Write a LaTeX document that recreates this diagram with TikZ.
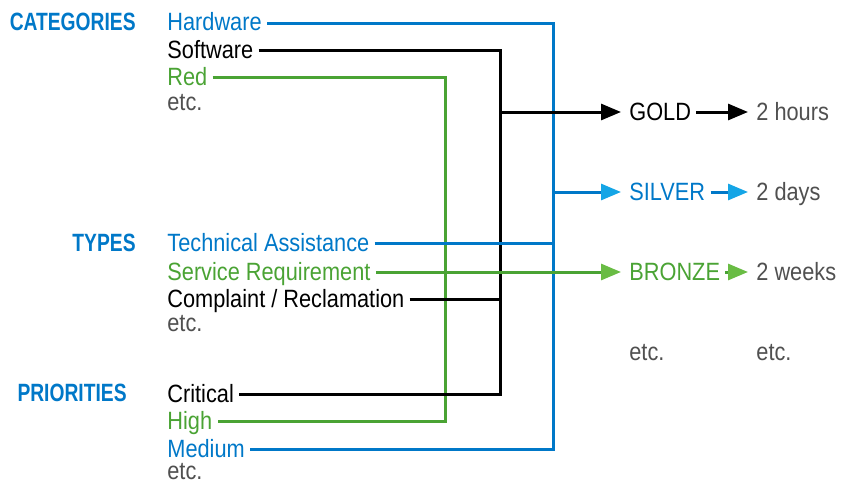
\documentclass[tikz,border=0pt]{standalone}
\usepackage{fontspec}
\setmainfont[FakeStretch=0.87,BoldFeatures={FakeStretch=0.77}]{Liberation Sans}
\usepackage{xcolor}
\usepackage{tikz}
\usetikzlibrary{arrows.meta}
\definecolor{catblue}{RGB}{0,120,200}
\definecolor{tipblue}{RGB}{20,165,230}
\definecolor{catgreen}{RGB}{74,163,52}
\definecolor{tipgreen}{RGB}{105,188,68}
\definecolor{etcgray}{RGB}{80,80,80}
\def\grp#1{\textbf{#1}}

\begin{document}
\begin{tikzpicture}[x=0.5pt,y=-0.5pt]
    \tikzstyle{every node}=[font=\fontsize{12.5}{14}\selectfont,text height=9pt,text depth=1pt,inner ysep=0pt,inner xsep=2.5pt]
    \tikzstyle{item}=[anchor=west]
    \tikzstyle{head}=[anchor=east,text=catblue]
    \tikzstyle{wire}=[line width=1.5pt]
    \tikzstyle{feed}=[wire,shorten >=1.5pt]
    \useasboundingbox (0,0) rectangle (846,482);
    \node[head] (cat) at (141,23) {\grp{CATEGORIES}};
    \node[head] (typ) at (141,243) {\grp{TYPES}};
    \node[head] (pri) at (132,393) {\grp{PRIORITIES}};
    \node[item,text=catblue] (hw) at (162,23) {Hardware};
    \node[item] (sw) at (162,50) {Software};
    \node[item,text=catgreen] (red) at (162,77) {Red};
    \node[item,text=etcgray] (etccat) at (162,102) {etc.};
    \node[item,text=catblue] (tech) at (162,243) {Technical Assistance};
    \node[item,text=catgreen] (serv) at (162,272) {Service Requirement};
    \node[item] (compl) at (162,299) {Complaint / Reclamation};
    \node[item,text=etcgray] (etctyp) at (162,323) {etc.};
    \node[item] (crit) at (162,394) {Critical};
    \node[item,text=catgreen] (high) at (162,421) {High};
    \node[item,text=catblue] (med) at (162,449) {Medium};
    \node[item,text=etcgray] (etcpri) at (162,471) {etc.};
    \node[item] (gold) at (624,112) {GOLD};
    \node[item,text=catblue] (silver) at (624,192) {SILVER};
    \node[item,text=catgreen] (bronze) at (624,272) {BRONZE};
    \node[item,text=etcgray] (etclvl) at (624,352) {etc.};
    \node[item,text=etcgray] (hours) at (751,112) {2 hours};
    \node[item,text=etcgray] (days) at (751,192) {2 days};
    \node[item,text=etcgray] (weeks) at (751,272) {2 weeks};
    \node[item,text=etcgray] (etctime) at (751,352) {etc.};
    \coordinate (gbus) at (445,0);
    \coordinate (kbus) at (500,0);
    \coordinate (bbus) at (553,0);
    \draw[wire,catgreen] (red.east) -- (red.east -| gbus) -- (high.east -| gbus) -- (high.east);
    \draw[wire] (sw.east) -- (sw.east -| kbus) -- (crit.east -| kbus) -- (crit.east);
    \draw[wire] (compl.east) -- (compl.east -| kbus);
    \draw[wire,catblue] (hw.east) -- (hw.east -| bbus) -- (med.east -| bbus) -- (med.east);
    \draw[wire,catblue] (tech.east) -- (tech.east -| bbus);
    \draw[feed,catgreen,-{Triangle[length=10pt,width=8pt,color=tipgreen]}] (serv) -- (bronze);
    \draw[feed,-{Triangle[length=10pt,width=8pt]}] (gold.west -| kbus) -- (gold);
    \draw[feed,catblue,-{Triangle[length=10pt,width=8pt,color=tipblue]}] (silver.west -| bbus) -- (silver);
    \draw[feed,-{Triangle[length=10pt,width=8pt]}] (gold) -- (hours);
    \draw[feed,catblue,-{Triangle[length=10pt,width=8pt,color=tipblue]}] (silver) -- (days);
    \draw[feed,catgreen,-{Triangle[length=10pt,width=8pt,color=tipgreen]}] (bronze) -- (weeks);
  \end{tikzpicture}
\end{document}
